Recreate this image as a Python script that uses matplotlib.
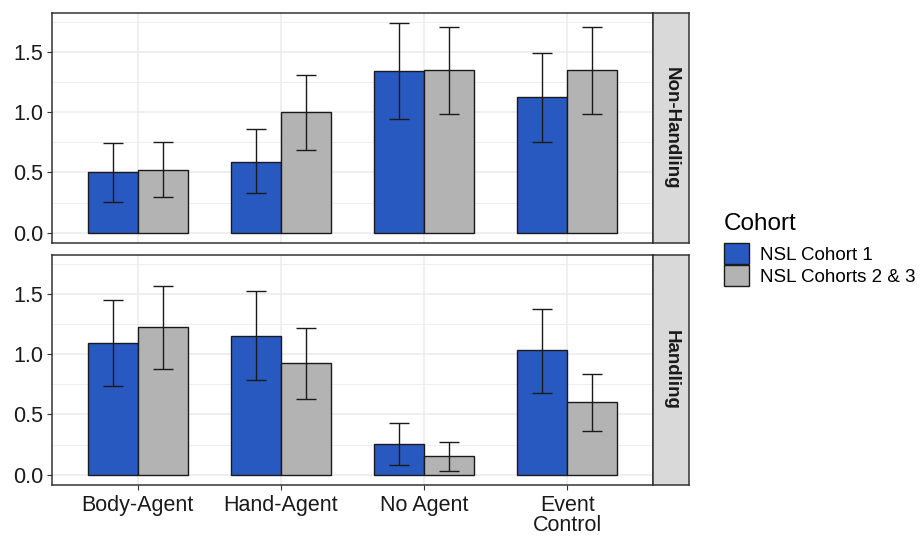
import numpy as np
import matplotlib
matplotlib.use("Agg")
import matplotlib.pyplot as plt
from matplotlib.patches import Patch

plt.rcParams["font.family"] = ["Liberation Sans", "DejaVu Sans"]

conditions = ["Body-Agent", "Hand-Agent", "No Agent", "Event\nControl"]
cohorts = ["NSL Cohort 1", "NSL Cohorts 2 & 3"]
cohort_colors = ["#2859C0", "#B3B3B3"]
facets = ["Non-Handling", "Handling"]

# mean looking time per condition, one list per cohort, per facet
nonhand_c1 = [0.50, 0.59, 1.345, 1.125]
nonhand_c23 = [0.52, 1.00, 1.35, 1.35]
hand_c1 = [1.095, 1.155, 0.255, 1.033]
hand_c23 = [1.225, 0.925, 0.152, 0.60]

# error bar bounds
nonhand_c1_lo = [0.253, 0.325, 0.942, 0.756]
nonhand_c1_hi = [0.742, 0.861, 1.747, 1.492]
nonhand_c23_lo = [0.297, 0.686, 0.989, 0.989]
nonhand_c23_hi = [0.750, 1.308, 1.714, 1.714]
hand_c1_lo = [0.735, 0.785, 0.077, 0.680]
hand_c1_hi = [1.456, 1.528, 0.425, 1.381]
hand_c23_lo = [0.881, 0.627, 0.033, 0.359]
hand_c23_hi = [1.569, 1.221, 0.271, 0.840]

panel_data = [
    ([nonhand_c1, nonhand_c23],
     [(nonhand_c1_lo, nonhand_c1_hi), (nonhand_c23_lo, nonhand_c23_hi)]),
    ([hand_c1, hand_c23],
     [(hand_c1_lo, hand_c1_hi), (hand_c23_lo, hand_c23_hi)]),
]

W, H = 921, 536
fig = plt.figure(figsize=(W / 100, H / 100), dpi=100)

def frac(x0, y0, x1, y1):
    return [x0 / W, 1 - y1 / H, (x1 - x0) / W, (y1 - y0) / H]

panel_boxes = [(52, 13, 653, 243), (52, 255, 653, 485)]
strip_w = 36
grid_col = "#EBEBEB"
dark = "#333333"
x = np.arange(1, len(conditions) + 1)
bw = 0.35

for i, ((means, errs), box, facet) in enumerate(zip(panel_data, panel_boxes, facets)):
    ax = fig.add_axes(frac(*box))
    ax.set_xlim(0.4, 4.6)
    ax.set_ylim(-0.087, 1.827)
    ax.set_yticks([0, 0.5, 1.0, 1.5])
    ax.set_yticklabels(["0.0", "0.5", "1.0", "1.5"])
    ax.set_yticks([0.25, 0.75, 1.25, 1.75], minor=True)
    ax.set_xticks(x)
    ax.grid(True, which="major", color=grid_col, lw=1.1)
    ax.grid(True, which="minor", axis="y", color=grid_col, lw=0.6)
    ax.set_axisbelow(True)
    ax.tick_params(axis="y", which="major", labelsize=15.5, length=3.5,
                   color=dark, pad=3, labelcolor="#1a1a1a")
    ax.tick_params(axis="y", which="minor", length=0)
    if i == 1:
        ax.set_xticklabels(conditions, fontsize=15.5, linespacing=0.92)
        ax.tick_params(axis="x", length=3.5, color=dark, pad=4,
                       labelcolor="#1a1a1a")
    else:
        ax.set_xticklabels([])
        ax.tick_params(axis="x", length=0)
    for sp in ax.spines.values():
        sp.set_color(dark)
        sp.set_linewidth(1.1)

    for k, (vals, (lo, hi), col) in enumerate(zip(means, errs, cohort_colors)):
        pos = x + (k - 0.5) * bw
        ax.bar(pos, vals, width=bw, color=col, edgecolor="#1a1a1a",
               linewidth=1.0, zorder=2)
        vals = np.array(vals)
        yerr = [vals - np.array(lo), np.array(hi) - vals]
        ax.errorbar(pos, vals, yerr=yerr, fmt="none", ecolor="#1a1a1a",
                    elinewidth=1.0, capsize=7, capthick=1.0, zorder=3)

    # facet strip on the right
    sx0, sy0, sx1, sy1 = box[2], box[1], box[2] + strip_w, box[3]
    sax = fig.add_axes(frac(sx0, sy0, sx1, sy1))
    sax.set_xticks([])
    sax.set_yticks([])
    sax.set_facecolor("#D9D9D9")
    for sp in sax.spines.values():
        sp.set_color(dark)
        sp.set_linewidth(1.1)
    sax.text(0.5, 0.5, facet, rotation=-90, ha="center", va="center",
             fontsize=13.5, fontweight="bold", color="#1a1a1a",
             transform=sax.transAxes)

handles = [Patch(facecolor=c, edgecolor="#1a1a1a", linewidth=1.0)
           for c in cohort_colors]
leg = fig.legend(handles, cohorts, title="Cohort", loc="upper left",
                 bbox_to_anchor=(716 / W, 1 - 205 / H), frameon=False,
                 fontsize=13.5, title_fontsize=17.5, handlelength=1.35,
                 handleheight=1.35, handletextpad=0.6, labelspacing=0.05,
                 borderaxespad=0)
leg._legend_box.align = "left"
leg._legend_box.sep = 6

fig.savefig("out.png", dpi=100)
